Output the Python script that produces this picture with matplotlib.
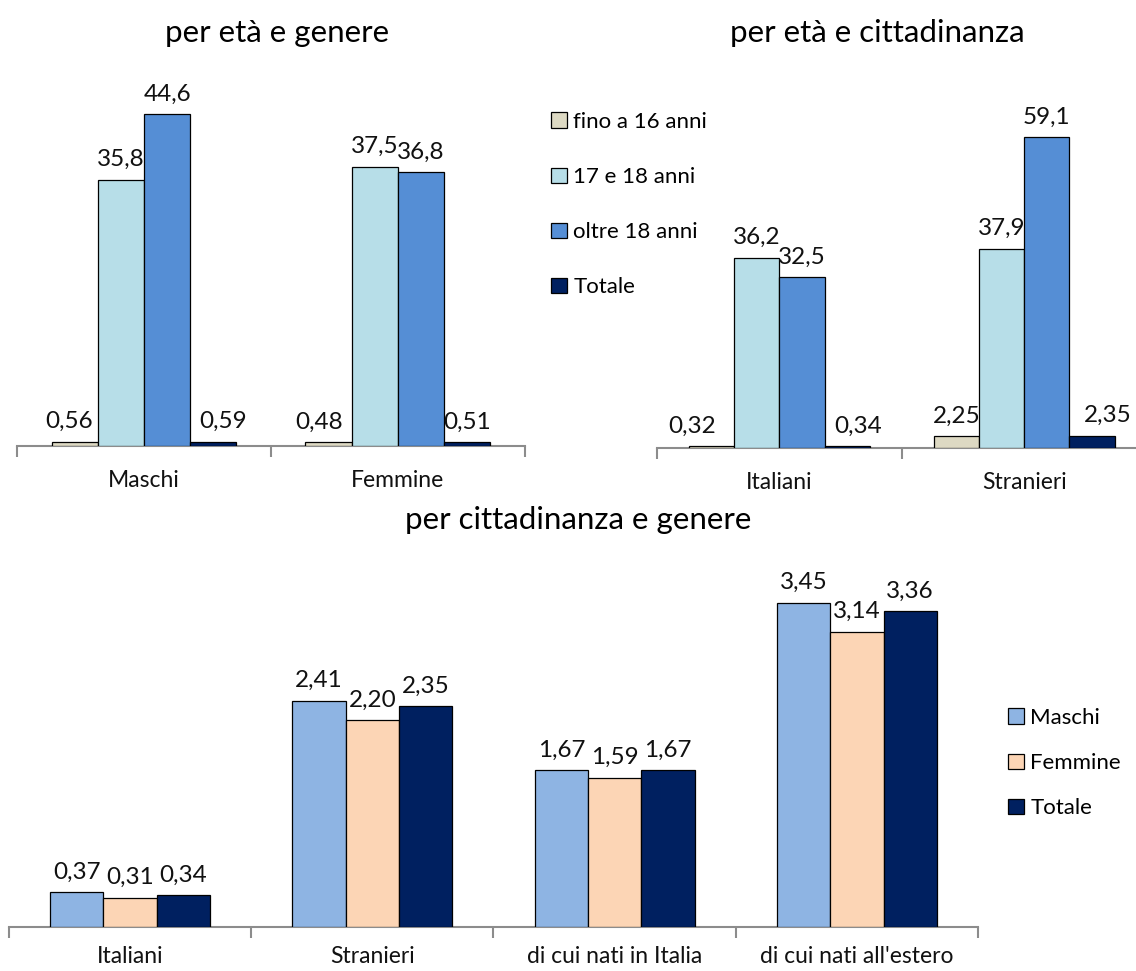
import matplotlib
matplotlib.use("Agg")
import matplotlib.pyplot as plt
from matplotlib.patches import Patch
import numpy as np

plt.rcParams['font.family'] = ['Lato', 'DejaVu Sans']

# --- data ---------------------------------------------------------------
eta_series = ["fino a 16 anni", "17 e 18 anni", "oltre 18 anni", "Totale"]
eta_colors = ["#DDD9C3", "#B7DEE8", "#558ED5", "#002060"]

genere_cats = ["Maschi", "Femmine"]
fino16_genere = [0.56, 0.48]
eta1718_genere = [35.8, 37.5]
oltre18_genere = [44.6, 36.8]
totale_genere = [0.59, 0.51]

citt_cats = ["Italiani", "Stranieri"]
fino16_citt = [0.32, 2.25]
eta1718_citt = [36.2, 37.9]
oltre18_citt = [32.5, 59.1]
totale_citt = [0.34, 2.35]

cg_cats = ["Italiani", "Stranieri", "di cui nati in Italia", "di cui nati all'estero"]
cg_series = ["Maschi", "Femmine", "Totale"]
cg_colors = ["#8EB4E3", "#FCD5B5", "#002060"]
maschi_cg = [0.37, 2.41, 1.67, 3.45]
femmine_cg = [0.31, 2.20, 1.59, 3.14]
totale_cg = [0.34, 2.35, 1.67, 3.36]

TITLE_PT = 22.5
LABEL_PT = 17.5
TICK_PT = 16.5
LEGEND_PT = 16


def fmt(v, dec):
    return f"{v:.{dec}f}".replace(".", ",")


def grouped(ax, cats, series, colors, width, decs, ymax, nudge=None):
    nudge = nudge or {}
    x = np.arange(len(cats))
    k = len(series)
    for i, (vals, col) in enumerate(zip(series, colors)):
        pos = x + (i - (k - 1) / 2) * width
        bars = ax.bar(pos, vals, width, color=col, edgecolor="black", linewidth=0.9, zorder=3)
        for j, (b, v, d) in enumerate(zip(bars, vals, decs[i])):
            dx = nudge.get((i, j), 0)
            ax.annotate(fmt(v, d), (b.get_x() + b.get_width() / 2, v),
                        xytext=(dx, 7), textcoords="offset points",
                        ha="center", va="bottom", fontsize=LABEL_PT, color="#111111")
    ax.set_xlim(-0.5, len(cats) - 0.5)
    ax.set_ylim(0, ymax)
    ax.set_yticks([])
    for s in ("top", "right", "left"):
        ax.spines[s].set_visible(False)
    ax.spines["bottom"].set_color("#8C8C8C")
    ax.spines["bottom"].set_linewidth(1.5)
    ax.set_xticks(x)
    ax.set_xticklabels(cats, fontsize=TICK_PT, color="#111111")
    ax.tick_params(axis="x", which="major", length=0, pad=17)
    ax.set_xticks(np.arange(len(cats) + 1) - 0.5, minor=True)
    ax.tick_params(axis="x", which="minor", length=8, width=1.5, color="#8C8C8C", direction="out")
    ax.set_facecolor("none")


fig = plt.figure(figsize=(11.36, 9.71), dpi=100)

# per età e genere
ax1 = fig.add_axes([0.015, 0.5407, 0.447, 0.383])
grouped(ax1, genere_cats,
        [fino16_genere, eta1718_genere, oltre18_genere, totale_genere],
        eta_colors, 0.182,
        [[2, 2], [1, 1], [1, 1], [2, 2]], 50,
        nudge={(0, 0): -4, (3, 0): 7, (0, 1): -7})
fig.text(277 / 1136, 1 - 33 / 971, "per età e genere", ha="center", va="center", fontsize=TITLE_PT)

# per età e cittadinanza
ax2 = fig.add_axes([0.5783, 0.5386, 0.4313, 0.352])
grouped(ax2, citt_cats,
        [fino16_citt, eta1718_citt, oltre18_citt, totale_citt],
        eta_colors, 0.184,
        [[2, 2], [1, 1], [1, 1], [2, 2]], 65,
        nudge={(0, 0): -14, (3, 0): 8, (3, 1): 11})
fig.text(877 / 1136, 1 - 33 / 971, "per età e cittadinanza", ha="center", va="center", fontsize=TITLE_PT)

fig.legend(handles=[Patch(facecolor=c, edgecolor="black", linewidth=0.9) for c in eta_colors],
           labels=eta_series, loc="upper left",
           bbox_to_anchor=(551 / 1136, 1 - 112 / 971), frameon=False, fontsize=LEGEND_PT,
           handlelength=0.7, handleheight=0.7, handletextpad=0.3,
           labelspacing=1.58, borderpad=0, borderaxespad=0)

# per cittadinanza e genere
ax3 = fig.add_axes([0.0079, 0.0453, 0.853, 0.387])
grouped(ax3, cg_cats, [maschi_cg, femmine_cg, totale_cg], cg_colors, 0.22,
        [[2] * 4, [2] * 4, [2] * 4], 4)
ax3.tick_params(axis="x", which="major", pad=14)
fig.text(578 / 1136, 1 - 520 / 971, "per cittadinanza e genere", ha="center", va="center", fontsize=TITLE_PT)

fig.legend(handles=[Patch(facecolor=c, edgecolor="black", linewidth=0.9) for c in cg_colors],
           labels=cg_series, loc="upper left",
           bbox_to_anchor=(1008 / 1136, 1 - 708 / 971), frameon=False, fontsize=LEGEND_PT,
           handlelength=0.7, handleheight=0.7, handletextpad=0.3,
           labelspacing=1.13, borderpad=0, borderaxespad=0)

fig.savefig("out.png", dpi=100, facecolor="white")
